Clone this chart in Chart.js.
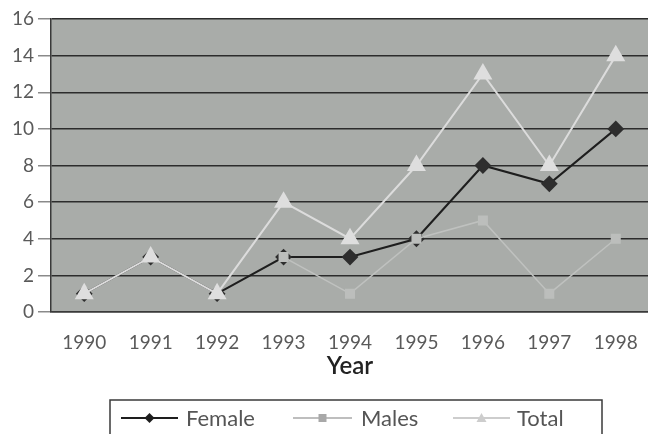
<!DOCTYPE html>
<html>
<head>
<meta charset="utf-8">
<script src="https://cdn.jsdelivr.net/npm/chart.js@4"></script>
<style>
  html, body { margin: 0; padding: 0; background: #fff; overflow: hidden; }
  #wrap { width: 660px; height: 434px; }
</style>
</head>
<body>
<div id="wrap"><canvas id="yearChart" width="660" height="434"></canvas></div>
<script>
var years = ['1990', '1991', '1992', '1993', '1994', '1995', '1996', '1997', '1998'];
var female = [1, 3, 1, 3, 3, 4, 8, 7, 10];
var males = [null, null, null, 3, 1, 4, 5, 1, 4];
var total = [1, 3, 1, 6, 4, 8, 13, 8, 14];
var yTicks = [0, 2, 4, 6, 8, 10, 12, 14, 16];

var FONT = "Lato, 'Open Sans', sans-serif";

// gray plot background
var plotBg = {
    id: 'plotBg',
    beforeDraw: function (chart) {
        var a = chart.chartArea, c = chart.ctx;
        c.save();
        c.fillStyle = '#a9aca9';
        c.fillRect(a.left, a.top, a.right - a.left, a.bottom - a.top);
        c.restore();
    }
};

// boxed legend with line + marker samples
var boxLegend = {
    id: 'boxLegend',
    afterDraw: function (chart) {
        var c = chart.ctx;
        var items = [
            { ds: 0, x0: 121, x1: 178, tx: 186 },
            { ds: 1, x0: 293, x1: 352, tx: 361 },
            { ds: 2, x0: 453, x1: 510, tx: 517 }
        ];
        var yc = 418;
        c.save();
        c.strokeStyle = '#3a3a3a';
        c.lineWidth = 1.5;
        c.strokeRect(110, 400, 492, 50);
        items.forEach(function (it) {
            var d = chart.data.datasets[it.ds];
            c.strokeStyle = d.legendLine;
            c.lineWidth = d.borderWidth;
            c.beginPath();
            c.moveTo(it.x0, yc);
            c.lineTo(it.x1, yc);
            c.stroke();
            c.fillStyle = d.legendLine;
            c.beginPath();
            var r = 5;
            var cx = (it.x0 + it.x1) / 2;
            if (d.pointStyle === 'rectRot') {
                c.moveTo(cx, yc - r); c.lineTo(cx + r, yc); c.lineTo(cx, yc + r); c.lineTo(cx - r, yc);
            } else if (d.pointStyle === 'rect') {
                c.rect(cx - 4, yc - 4, 8, 8);
            } else {
                c.moveTo(cx, yc - r); c.lineTo(cx + r, yc + 4); c.lineTo(cx - r, yc + 4);
            }
            c.closePath();
            c.fill();
            c.fillStyle = '#555';
            c.font = '22px ' + FONT;
            c.textBaseline = 'middle';
            c.textAlign = 'left';
            c.fillText(d.label, it.tx, yc + 1);
        });
        c.restore();
    }
};

var ctx = document.getElementById('yearChart').getContext('2d');
var chart = new Chart(ctx, {
    type: 'line',
    data: {
        labels: years,
        datasets: [
            {
                label: 'Female',
                data: female,
                order: 3,
                borderColor: '#1e1e1e',
                legendLine: '#1e1e1e',
                borderWidth: 2,
                pointStyle: 'rectRot',
                pointRadius: 7,
                pointBackgroundColor: '#2e2e2e',
                pointBorderColor: '#2e2e2e',
                tension: 0
            },
            {
                label: 'Males',
                data: males,
                order: 2,
                borderColor: '#bfc1bf',
                legendLine: '#a8a8a8',
                borderWidth: 1.5,
                pointStyle: 'rect',
                pointRadius: 6,
                pointBackgroundColor: '#bcbebc',
                pointBorderColor: '#bcbebc',
                spanGaps: false,
                tension: 0
            },
            {
                label: 'Total',
                data: total,
                order: 1,
                borderColor: '#dcdcdc',
                legendLine: '#cdcdcd',
                borderWidth: 2,
                pointStyle: 'triangle',
                pointRadius: 9,
                pointBackgroundColor: '#dedede',
                pointBorderColor: '#dedede',
                tension: 0
            }
        ]
    },
    options: {
        responsive: false,
        animation: false,
        layout: { padding: { top: 19, right: 4, bottom: 52, left: 0 } },
        plugins: {
            legend: { display: false },
            tooltip: { enabled: false }
        },
        scales: {
            x: {
                offset: true,
                grid: { display: false, drawTicks: false },
                border: { display: true, color: '#3a3a3a', width: 1.5 },
                ticks: { color: '#5a5a5a', font: { family: FONT, size: 19 }, padding: 19 },
                title: {
                    display: true,
                    text: 'Year',
                    color: '#222',
                    font: { family: FONT, size: 24, weight: '600' },
                    padding: { top: 0, bottom: 1 }
                },
                afterFit: function (s) { s.height = 70; }
            },
            y: {
                min: 0,
                max: 16,
                afterBuildTicks: function (s) {
                    s.ticks = yTicks.map(function (v) { return { value: v }; });
                },
                grid: {
                    color: '#2c2c2c',
                    lineWidth: 1.5,
                    tickLength: 13,
                    tickColor: '#8a8a8a'
                },
                border: { display: true, color: '#3a3a3a', width: 1.5 },
                ticks: { color: '#5a5a5a', font: { family: FONT, size: 19 }, padding: 4 },
                afterFit: function (s) { s.width = 51; }
            }
        }
    },
    plugins: [plotBg, boxLegend]
});
</script>
</body>
</html>
